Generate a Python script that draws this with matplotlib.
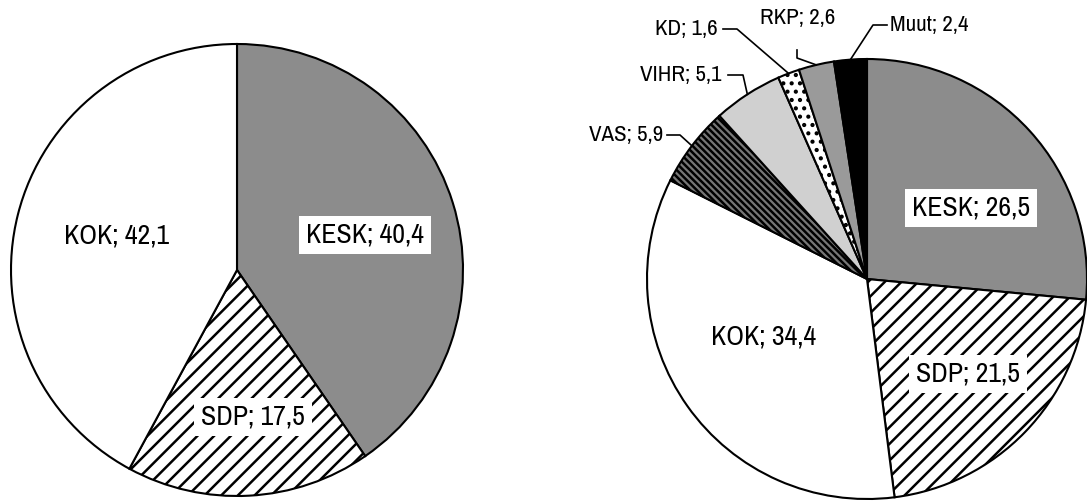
import matplotlib.pyplot as plt
import numpy as np

W, H = 1087, 501

left_parties = ['KESK', 'SDP', 'KOK']
left_shares = [40.4, 17.5, 42.1]

right_parties = ['KESK', 'SDP', 'KOK', 'VAS', 'VIHR', 'KD', 'RKP', 'Muut']
right_shares = [26.5, 21.5, 34.4, 5.9, 5.1, 1.6, 2.6, 2.4]

# fill colour and hatch for each party
styles = {
    'KESK': ('#8c8c8c', None),
    'SDP': ('white', '//'),
    'KOK': ('white', None),
    'VAS': ('#777777', '\\\\\\\\\\'),
    'VIHR': ('#d0d0d0', None),
    'KD': ('white', '..'),
    'RKP': ('#9a9a9a', None),
    'Muut': ('black', None),
}

plt.rcParams['font.family'] = ['Archivo Narrow', 'DejaVu Sans']
plt.rcParams['font.stretch'] = 'condensed'
plt.rcParams['hatch.linewidth'] = 1.8


def label(name, value):
    return f'{name}; {value:.1f}'.replace('.', ',')


def draw_pie(ax, parties, shares, center, radius):
    wedges, _ = ax.pie(shares, center=center, radius=radius, startangle=90,
                       counterclock=False, frame=True,
                       colors=[styles[p][0] for p in parties],
                       wedgeprops=dict(edgecolor='black', linewidth=1.5))
    for w, p in zip(wedges, parties):
        if styles[p][1]:
            w.set_hatch(styles[p][1])
    return wedges


fig = plt.figure(figsize=(W / 100, H / 100), dpi=100)
ax = fig.add_axes([0, 0, 1, 1])

left_c, left_r = (237, H - 270), 226
right_c, right_r = (867, H - 279), 220

draw_pie(ax, left_parties, left_shares, left_c, left_r)
wedges = draw_pie(ax, right_parties, right_shares, right_c, right_r)

box = dict(boxstyle='square,pad=0.25', facecolor='white', edgecolor='none')

# big labels inside the slices (image pixel positions)
big_pos_left = {'KESK': (365, 235), 'SDP': (253, 417), 'KOK': (117, 236)}
big_pos_right = {'KESK': (971, 208), 'SDP': (968, 374), 'KOK': (764, 337)}

for parties, shares, pos in [(left_parties, left_shares, big_pos_left),
                             (right_parties, right_shares, big_pos_right)]:
    for p, v in zip(parties, shares):
        if p in pos:
            x, y = pos[p]
            ax.text(x, H - y, label(p, v), fontsize=20, ha='center',
                    va='center', bbox=box)

# small labels with leader lines: text pos, alignment, leader points
small = {
    'VAS': ((663, 135), 'right', [(667, 135), (680, 135)]),
    'VIHR': ((722, 75), 'right', [(728, 75), (743, 75)]),
    'KD': ((718, 29), 'right', [(723, 29), (737, 29)]),
    'RKP': ((798, 18), 'center', [(797, 50), (797, 58)]),
    'Muut': ((890, 25), 'left', [(887, 25), (873, 25)]),
}

for w, p, v in zip(wedges, right_parties, right_shares):
    if p not in small:
        continue
    (tx, ty), ha, pts = small[p]
    ang = np.deg2rad((w.theta1 + w.theta2) / 2)
    ax_x = right_c[0] + right_r * np.cos(ang)
    ax_y = right_c[1] + right_r * np.sin(ang)
    xs = [q[0] for q in pts] + [ax_x]
    ys = [H - q[1] for q in pts] + [ax_y]
    ax.plot(xs, ys, color='black', lw=1.2)
    ax.text(tx, H - ty, label(p, v), fontsize=16.5, ha=ha, va='center')

ax.set_xlim(0, W)
ax.set_ylim(0, H)
ax.axis('off')

fig.savefig('out.png', dpi=100)
